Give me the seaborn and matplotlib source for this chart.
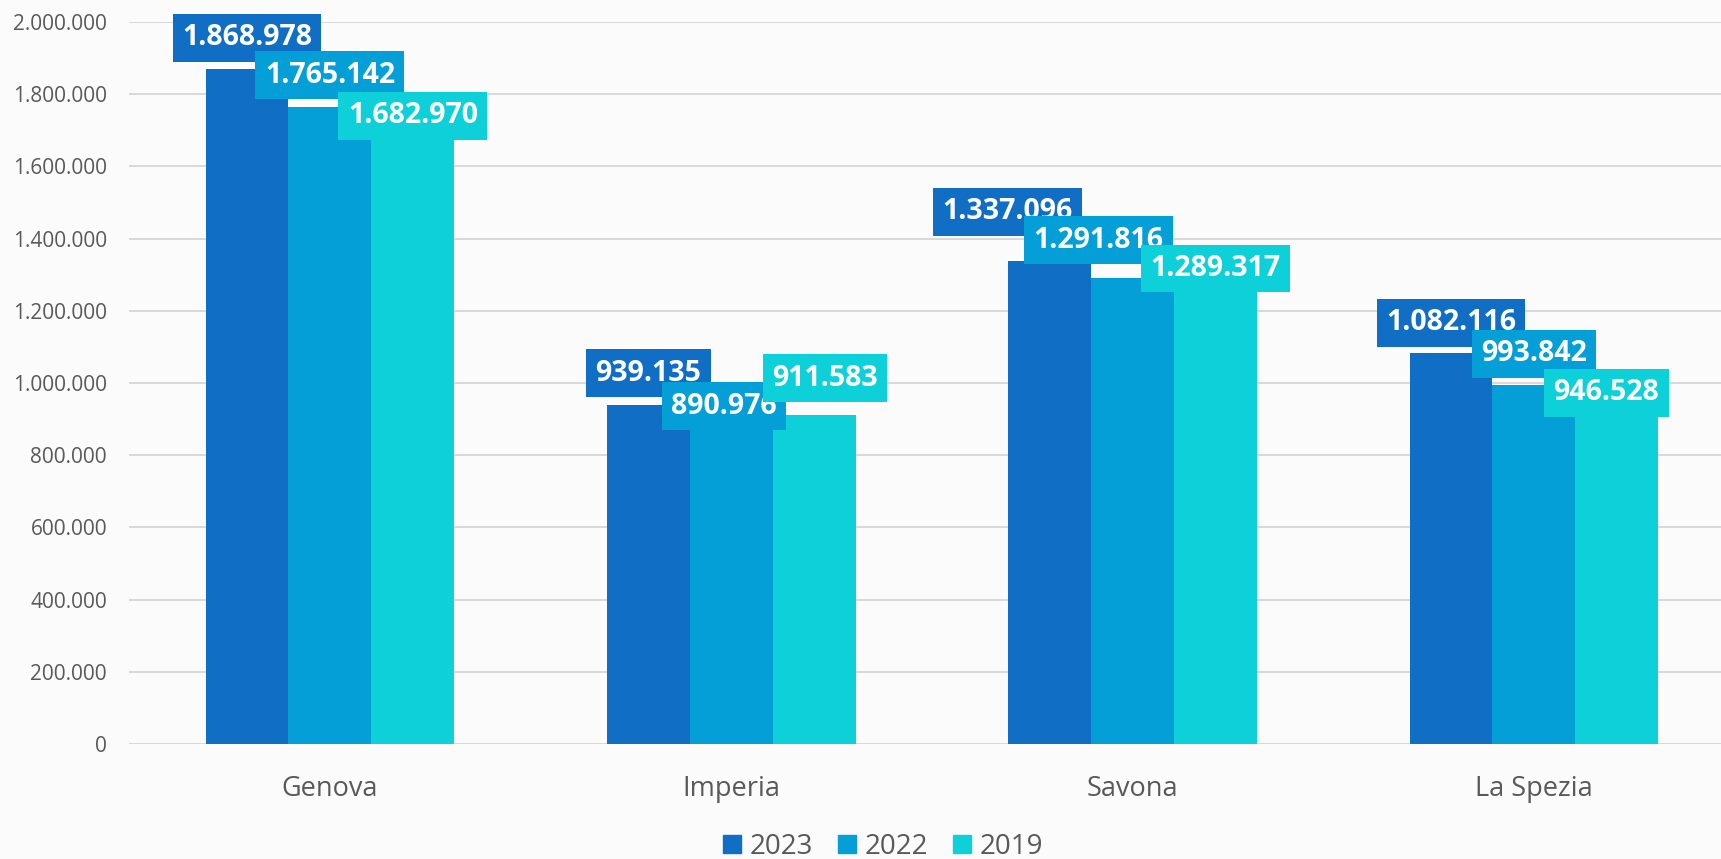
import numpy as np
import matplotlib
matplotlib.use("Agg")
import matplotlib.pyplot as plt
from matplotlib.ticker import FuncFormatter
import seaborn as sns
import pandas as pd

cities = ['Genova', 'Imperia', 'Savona', 'La Spezia']
years = ['2023', '2022', '2019']
v2023 = [1868978, 939135, 1337096, 1082116]
v2022 = [1765142, 890976, 1291816, 993842]
v2019 = [1682970, 911583, 1289317, 946528]
colors = ['#106EC4', '#039FD6', '#0DD0D9']

rows = []
for y, vals in zip(years, [v2023, v2022, v2019]):
    for c, v in zip(cities, vals):
        rows.append({'city': c, 'year': y, 'value': v})
df = pd.DataFrame(rows)


def it_fmt(v):
    return f"{int(round(v)):,}".replace(',', '.')


sns.set_style('white')
plt.rcParams['font.family'] = ['Open Sans', 'DejaVu Sans']

fig = plt.figure(figsize=(17.21, 8.59), dpi=100)
fig.patch.set_facecolor('#FBFBFB')
ax = fig.add_axes([0.0751, 0.1339, 0.9328, 0.8405])
ax.set_facecolor('none')

sns.barplot(data=df, x='city', y='value', hue='year', hue_order=years,
            order=cities, palette=colors, width=0.62, gap=0, saturation=1,
            edgecolor='none', ax=ax, legend=True)

ax.set_xlim(-0.5, 3.5)
ax.set_ylim(0, 2000000)
ax.set_yticks(np.arange(0, 2000001, 200000))
ax.yaxis.set_major_formatter(FuncFormatter(lambda v, p: it_fmt(v)))
ax.set_axisbelow(True)
ax.grid(axis='y', color='#D9D9D9', linewidth=1.4)
ax.grid(axis='x', visible=False)
for s in ax.spines.values():
    s.set_visible(False)
ax.set_xlabel('')
ax.set_ylabel('')
ax.tick_params(axis='y', length=0, pad=16, labelsize=15, labelcolor='#595959')
ax.tick_params(axis='x', length=0, pad=22, labelsize=19.5, labelcolor='#595959')

# label nudges (pixels) copying the hand-placed labels of the original
nudge = {
    '2023': [(0, 0), (0, 0), (-42, 18), (0, -1)],
    '2022': [(0, 0), (-7.5, -15.5), (-34, 6), (0, 0)],
    '2019': [(0, -11), (11, 5), (0, -21.5), (-10.5, -22)],
}
px = 0.72  # points per pixel at dpi 100
for cont, col, yr in zip(ax.containers, colors, years):
    for bar, (dx, dy) in zip(cont, nudge[yr]):
        h = bar.get_height()
        ax.annotate(it_fmt(h), (bar.get_x() + bar.get_width() / 2, h),
                    xytext=(dx * px, 12.3 + dy * px), textcoords='offset points',
                    ha='center', va='bottom', fontsize=20.5, fontweight='bold',
                    color='white', annotation_clip=False,
                    bbox=dict(boxstyle='square,pad=0.33', facecolor=col, edgecolor='none'))

ax.get_legend().remove()
handles = [plt.Rectangle((0, 0), 1, 1, color=c) for c in colors]
fig.legend(handles, years, loc='center', bbox_to_anchor=(0.513, 0.014),
           ncol=3, frameon=False, fontsize=20, labelcolor='#595959',
           handlelength=0.65, handleheight=0.65, handletextpad=0.3,
           columnspacing=0.9, borderpad=0)

fig.savefig('out.png', dpi=100, facecolor=fig.get_facecolor())
